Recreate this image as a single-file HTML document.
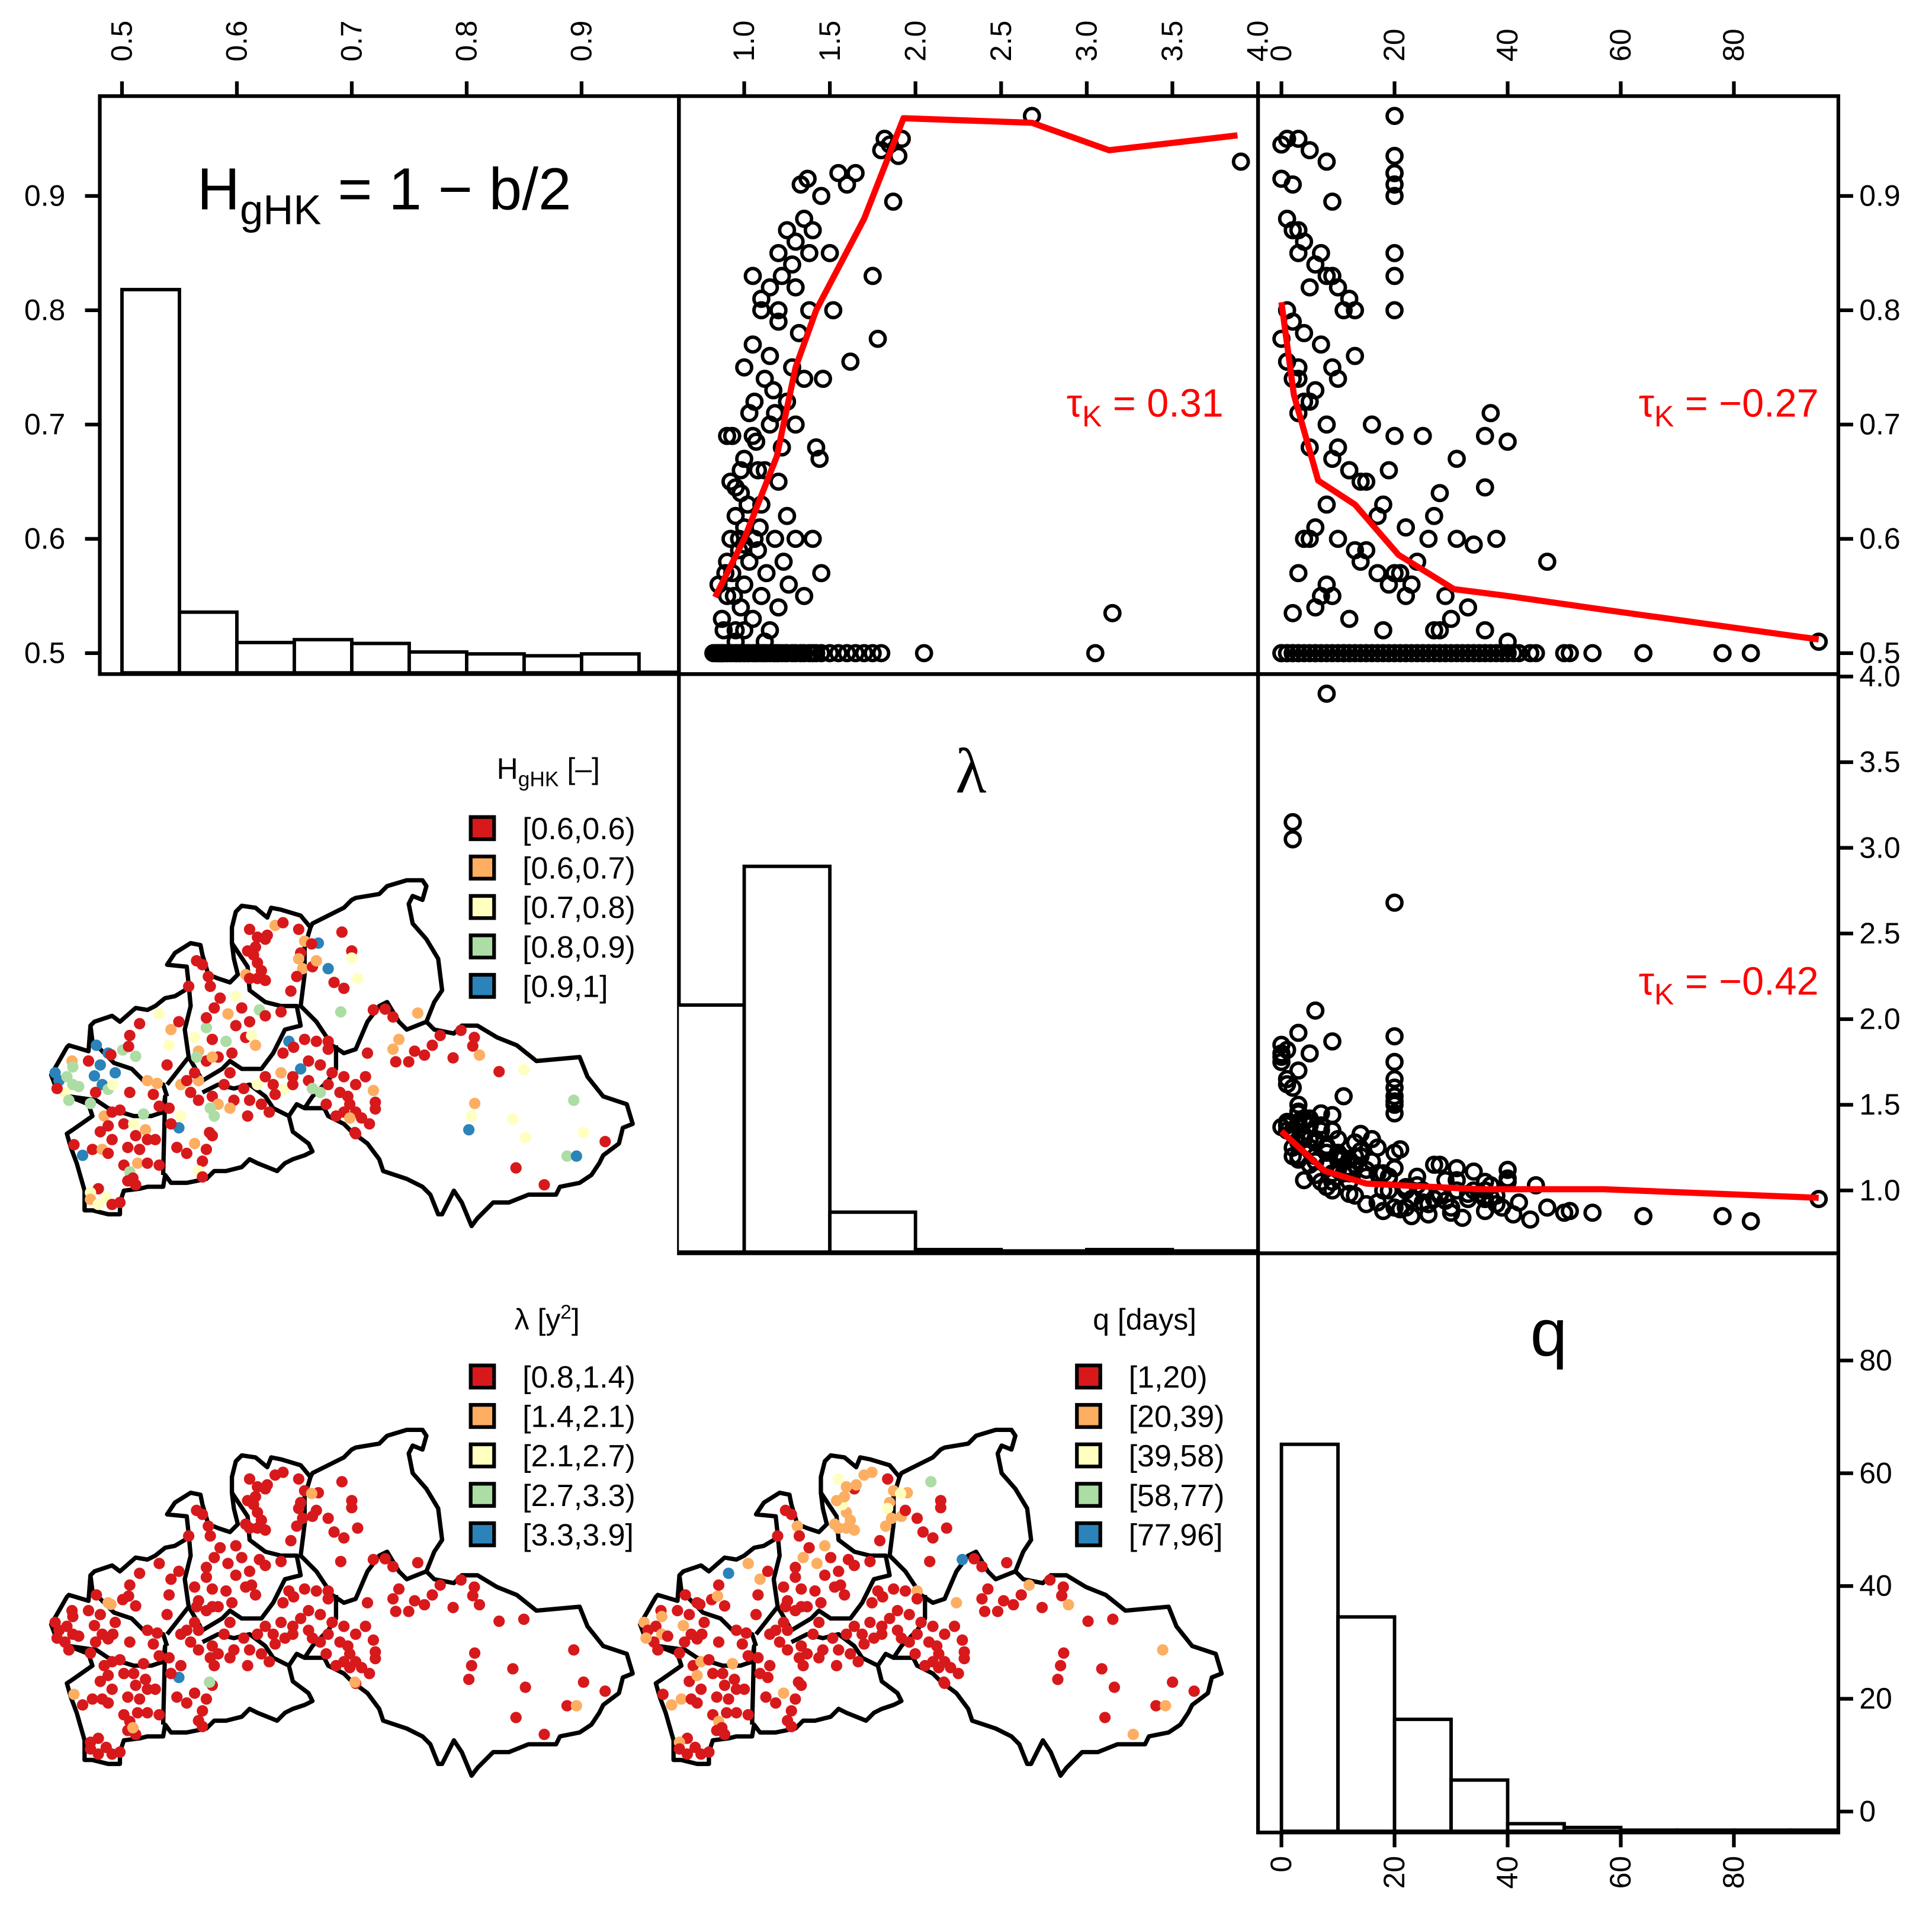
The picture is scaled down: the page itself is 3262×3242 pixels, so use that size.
<!DOCTYPE html>
<html><head><meta charset="utf-8"><style>
html,body{margin:0;padding:0;background:#fff}
svg{display:block}
text{font-family:"Liberation Sans",sans-serif;fill:#000}
</style></head><body>
<svg id="c" xmlns="http://www.w3.org/2000/svg" width="3262" height="3242" viewBox="0 0 1568 1558" preserveAspectRatio="none">
<rect x="0" y="0" width="1568" height="1558" fill="#fff"/>
<g id="frames" fill="none" stroke="#000" stroke-width="3">
<rect x="81" y="78" width="470" height="469"/>
<rect x="551" y="78" width="470" height="469"/>
<rect x="1021" y="78" width="471" height="469"/>
<rect x="551" y="547" width="470" height="470"/>
<rect x="1021" y="547" width="471" height="470"/>
<rect x="1021" y="1017" width="471" height="470"/>
</g>
<g id="ticks"></g>
<g id="marks"></g>
<g id="maps"></g>
<text x="160" y="170" font-size="48">H<tspan font-size="34" dy="12">gHK</tspan><tspan dy="-12"> = 1 − b/2</tspan></text>
<text x="788" y="643" font-size="52" text-anchor="middle" style="font-family:'Liberation Serif',serif">λ</text>
<text x="1257" y="1100" font-size="54" text-anchor="middle">q</text>
<text x="993" y="338" font-size="32" text-anchor="end" style="fill:#f00">τ<tspan font-size="24" dy="8">K</tspan><tspan dy="-8"> = 0.31</tspan></text>
<text x="1476" y="338" font-size="32" text-anchor="end" style="fill:#f00">τ<tspan font-size="24" dy="8">K</tspan><tspan dy="-8"> = −0.27</tspan></text>
<text x="1476" y="807" font-size="32" text-anchor="end" style="fill:#f00">τ<tspan font-size="24" dy="8">K</tspan><tspan dy="-8"> = −0.42</tspan></text>
</svg>
<script>
const NS='http://www.w3.org/2000/svg';
// ---------- data ----------
const hTicks=[0.5,0.6,0.7,0.8,0.9];
const lamTicks=[1.0,1.5,2.0,2.5,3.0,3.5,4.0];
const qTicks=[0,20,40,60,80];
const hBinEdges=[0.5,0.55,0.6,0.65,0.7,0.75,0.8,0.85,0.9,0.95,1.0];
const hCounts=[202,32,16,17.5,15.5,11,10,9,10,0.3];
const lamBinEdges=[0.5,1.0,1.5,2.0,2.5,3.0,3.5,4.0];
const lamCounts=[130,203,21,1.3,0.6,1.3,0.6];
const qBinEdges=[0,10,20,30,40,50,60,70,80,90,100];
const qCounts=[204,113,59,27,4,2,0.6,0.6,0.6,0.6];
// observations: [lambda, H, q]
const obs=[
[0.83,0.5,44],[0.85,0.5,64],[0.82,0.5,83],[0.85,0.5,78],[0.87,0.5,55],[0.87,0.5,50],[0.88,0.5,51],[0.95,0.51,95],
[0.88,0.5,36],[0.9,0.5,30],[0.92,0.5,38],[0.95,0.5,33],[0.97,0.5,28],[1.0,0.5,25],[1.02,0.5,22],[1.05,0.5,40],[1.07,0.5,19],[1.1,0.5,17],[1.12,0.5,15],[1.15,0.5,27],[1.18,0.5,12],[1.2,0.5,10],[1.22,0.5,20],[1.25,0.5,8],[1.28,0.5,13],[1.3,0.5,6],[1.35,0.5,9],[1.38,0.5,5],[1.42,0.5,4],[1.45,0.5,7],[1.5,0.5,3],[1.55,0.5,11],[1.6,0.5,2],[1.65,0.5,1],[1.7,0.5,3],[1.75,0.5,0],[1.8,0.5,0],[2.05,0.5,6],[3.05,0.5,2],[0.98,0.5,35],[1.08,0.5,24],[1.13,0.5,31],[0.93,0.5,42],[1.03,0.5,45],[0.95,0.5,23],[1.17,0.5,16],[1.33,0.5,14],[1.0,0.5,18],[0.9,0.5,39],[1.06,0.5,29],[1.24,0.5,21],[1.4,0.5,1],[0.86,0.5,26],[1.11,0.5,34],[0.96,0.5,37],[1.19,0.5,11],[0.84,0.5,32],[0.86,0.5,41],
[0.87,0.53,30],[0.9,0.55,22],[0.93,0.57,17],[0.95,0.52,27],[0.98,0.54,33],[1.0,0.56,19],[1.03,0.58,24],[1.05,0.53,12],[1.08,0.59,15],[1.1,0.55,9],[1.13,0.57,20],[1.15,0.52,28],[1.18,0.6,10],[1.2,0.54,6],[1.23,0.58,14],[1.26,0.56,8],[1.3,0.6,5],[1.35,0.55,7],[1.4,0.6,4],[1.45,0.57,3],[0.92,0.6,26],[1.0,0.52,36],[1.06,0.6,31],[1.12,0.51,40],[0.89,0.57,21],[3.15,0.535,2],[0.9,0.58,47],[0.85,0.56,23],[0.88,0.52,18],[0.94,0.55,29],[0.97,0.59,13],
[0.95,0.62,27],[0.98,0.64,28],[1.0,0.67,31],[1.03,0.71,37],[1.05,0.69,36],[1.07,0.685,40],[0.97,0.6,38],[1.0,0.595,34],[0.95,0.645,36],[0.93,0.69,25],[1.1,0.63,18],[1.12,0.66,12],[1.15,0.7,8],[1.17,0.73,6],[1.2,0.65,14],[1.22,0.68,10],[1.25,0.72,5],[1.28,0.75,3],[1.3,0.7,16],[1.32,0.78,4],[1.35,0.74,2],[1.38,0.8,1],[0.9,0.69,20],[0.92,0.65,15],[1.0,0.75,9],[1.05,0.77,7],[1.1,0.8,11],[1.15,0.76,13],[1.2,0.79,2],[1.25,0.62,17],[1.0,0.61,22],[1.08,0.66,19],[1.46,0.74,3],[1.42,0.68,5],[1.44,0.67,9],[1.62,0.755,1],[1.78,0.775,0],[1.52,0.8,20],[1.02,0.63,8],[1.06,0.72,4],[1.12,0.74,10],[1.18,0.71,3],[0.98,0.66,12],[1.09,0.61,6],
[1.15,0.82,5],[1.2,0.85,3],[1.22,0.83,8],[1.25,0.87,2],[1.28,0.84,6],[1.3,0.86,4],[1.35,0.88,1],[1.38,0.85,7],[1.4,0.87,3],[1.3,0.82,10],[1.33,0.91,2],[1.37,0.915,0],[1.55,0.92,20],[1.6,0.91,20],[1.65,0.92,20],[1.8,0.94,5],[1.82,0.95,1],[1.85,0.945,0],[1.92,0.95,3],[1.9,0.935,20],[1.87,0.895,9],[1.45,0.9,20],[1.5,0.85,20],[1.75,0.83,20],[1.2,0.8,13],[2.68,0.97,20],[3.9,0.93,8],[1.1,0.81,12],[1.05,0.83,9]
];
const fitLamH=[[0.83,0.549],[1.0,0.6],[1.19,0.672],[1.3,0.75],[1.42,0.80],[1.7,0.88],[1.93,0.968],[2.68,0.964],[3.13,0.94],[3.88,0.953]];
const fitQH=[[0,0.807],[2.2,0.726],[6.5,0.651],[13,0.63],[20.7,0.586],[30.5,0.556],[40,0.55],[57,0.538],[95,0.512]];
const fitQLam=[[0,1.345],[7.6,1.115],[15,1.04],[35,1.007],[57,1.007],[95,0.957]];
const classColors=['#D7191C','#FDAE61','#FFFFBF','#ABDDA4','#2B83BA'];
const legendH=['[0.6,0.6)','[0.6,0.7)','[0.7,0.8)','[0.8,0.9)','[0.9,1]'];
const legendL=['[0.8,1.4)','[1.4,2.1)','[2.1,2.7)','[2.7,3.3)','[3.3,3.9]'];
const legendQ=['[1,20)','[20,39)','[39,58)','[58,77)','[77,96]'];
// stations: [mapX, mapY, Hclass, lambdaClass, qClass]
const stations=[
[65,770,4,0,1],[75,790,4,0,0],[95,780,3,0,0],[110,800,3,0,1],[125,805,3,0,0],[90,820,2,0,0],[100,840,3,0,0],[70,810,0,0,1],[108,740,1,0,0],[110,755,3,0,1],[150,740,0,0,0],[170,700,4,0,0],[200,720,4,1,0],[180,750,4,0,0],[165,778,4,0,1],[218,770,4,0,0],[185,800,4,0,0],[200,812,3,0,0],[212,800,2,0,0],[155,848,3,0,0],[168,820,0,0,0],[237,712,3,0,0],[252,703,0,0,1],[270,728,3,0,0],[255,675,0,0,0],[280,645,0,0,4],[255,820,0,0,0],
[300,790,1,0,0],[325,797,1,0,0],[290,875,3,0,1],[350,750,0,0,0],[315,825,0,0,0],[330,855,0,0,0],[355,860,0,0,0],[360,660,1,0,1],[380,640,0,0,0],[355,700,2,0,0],[330,620,2,0,1],
[190,880,1,0,0],[210,870,0,0,1],[230,865,0,0,0],[180,920,0,0,0],[200,905,0,0,1],[240,900,0,0,0],[265,900,2,0,0],[295,915,1,0,0],[270,930,0,0,0],[300,940,0,0,0],[320,940,0,0,0],[210,940,0,0,0],[250,960,0,0,0],[280,965,0,0,0],[160,965,0,0,1],[185,965,1,0,0],[135,980,4,0,1],[200,975,0,0,0],[240,1005,0,0,0],[255,1022,3,0,1],[275,1000,1,0,0],[300,1000,0,0,0],[330,1005,0,0,0],[250,1045,0,0,0],[270,1055,0,0,0],[175,1065,0,0,0],[155,1075,2,0,1],[155,1092,1,0,0],[195,1088,2,0,0],[175,1105,2,0,0],[230,1100,0,0,0],[210,1105,0,0,0],
[263,1038,0,1,0],[113,953,0,1,0],[207,724,0,1,0],
[380,910,4,4,0],[385,880,2,0,0],[360,900,0,0,0],[375,960,0,0,0],[400,975,0,0,0],[420,950,1,0,1],[440,995,0,0,0],[450,965,0,0,0],[465,930,0,0,0],[430,1020,2,0,0],[440,1035,0,0,0],[470,880,3,0,0],[458,922,0,3,0],[465,830,0,0,0],[410,820,0,0,0],[430,840,0,0,0],[385,800,1,0,0],[400,790,0,0,0],[430,790,1,0,0],[420,770,0,0,0],[450,740,0,0,0],[480,730,0,0,0],[465,730,1,0,0],[430,715,1,0,0],[425,730,3,0,0],[510,770,0,0,0],[495,800,0,0,0],[520,840,0,0,0],[510,860,1,0,0],[480,850,1,0,0],[460,860,3,0,0],[545,810,0,0,0],[560,840,0,0,0],[555,880,0,0,0],[590,850,0,0,0],[610,870,0,0,0],[580,800,2,0,0],[600,780,0,0,0],
[420,680,2,0,0],[465,685,0,0,0],[500,690,3,0,0],[515,720,0,0,0],[550,680,0,0,0],[565,675,2,0,0],[575,700,1,0,0],[525,650,0,0,0],[505,620,1,0,1],[540,605,0,0,0],[585,610,3,0,0],[600,625,0,0,0],[640,615,0,0,0],[560,640,0,0,0],[450,655,3,0,0],[470,605,0,0,1],[485,580,0,0,0],[525,575,2,0,1],[450,630,0,0,0],[405,550,0,0,0],[455,525,0,0,1],[460,550,0,0,0],[425,485,0,0,0],[440,495,0,0,0],
[550,520,1,0,1],[560,530,0,0,1],[580,530,0,0,1],[600,535,0,0,1],[590,510,0,0,1],[580,490,0,0,1],[570,470,0,0,2],[555,460,0,0,1],[575,450,0,0,1],[600,430,0,0,0],[560,405,0,0,2],[580,425,0,0,1],[605,420,0,0,1],[625,395,1,0,1],[645,388,0,0,1],[685,405,0,0,0],[700,435,1,0,1],[690,465,0,0,1],[685,480,1,0,2],[695,505,1,0,1],[720,500,0,0,1],[730,485,1,0,0],[735,440,4,0,1],[760,505,4,0,0],[680,525,0,0,1],[665,562,0,0,0],[775,540,0,0,0],[800,555,0,0,0],[795,412,0,0,3],[820,460,0,0,0],[820,478,2,0,0],[835,530,2,0,0],[718,442,0,1,2],[792,615,3,0,0],[875,610,0,0,4],[905,608,0,0,0],[925,628,0,0,0],[988,618,1,0,0],
[660,690,4,0,0],[645,720,0,0,0],[672,705,0,0,0],[700,685,0,0,0],[730,690,0,0,0],[760,690,0,0,1],[710,740,0,0,0],[740,750,0,0,0],[770,770,0,0,0],[800,780,0,0,0],[760,710,0,0,0],[690,760,4,0,0],[670,780,0,0,0],[640,770,1,0,0],[620,800,0,0,0],[650,810,2,0,0],[670,800,0,0,0],[710,790,0,0,0],[720,810,3,0,0],[740,820,3,0,0],[760,800,0,0,0],[790,820,0,0,0],[810,830,0,0,0],[830,800,0,0,0],[855,780,0,0,0],[860,720,0,0,1],[815,850,0,0,0],[830,870,0,0,0],[780,880,0,0,0],[800,870,0,0,0],[815,885,1,0,0],[845,885,0,0,0],[865,900,0,0,0],[830,925,0,0,0],[875,815,1,0,0],[880,845,0,0,0],[880,862,0,0,0],[828,922,0,1,0],[755,850,0,0,0],[625,825,0,0,0],
[940,685,1,0,0],[925,710,1,0,0],[932,742,0,0,0],[965,742,0,0,0],[980,715,0,0,0],[1005,725,0,0,0],[1025,700,0,0,0],[1045,675,0,0,1],[1098,662,0,0,0],[1132,680,0,0,0],[1128,702,0,0,0],[1145,725,1,0,1],[1078,732,0,0,0],[1195,767,0,0,0],[1258,762,2,0,0],[1133,848,1,0,0],[1125,880,2,0,0],[1118,915,4,0,0],[1230,888,2,0,0],[1262,935,2,0,0],[1385,840,3,0,1],[1410,922,2,0,0],[1368,982,3,0,0],[1392,982,4,1,1],[1465,945,0,0,0],[1238,1012,0,0,0],[1310,1055,0,0,1]
];
const outline="M55,775 L95,705 L100,700 L150,715 L155,650 L165,640 L210,625 L230,640 L270,605 L300,610 L320,600 L345,580 L370,575 L395,560 L405,545 L400,500 L350,495 L370,465 L410,440 L435,445 L440,470 L455,520 L480,530 L510,540 L530,520 L520,480 L515,440 L515,400 L525,360 L540,345 L575,350 L605,375 L615,350 L640,355 L690,370 L715,400 L720,390 L760,370 L800,350 L820,330 L830,325 L890,315 L910,295 L960,280 L1000,280 L1010,295 L1000,330 L975,320 L965,340 L975,390 L1010,430 L1040,480 L1050,560 L1030,590 L1010,640 L1030,660 L1080,670 L1100,650 L1140,650 L1190,680 L1215,690 L1240,700 L1290,740 L1400,730 L1420,780 L1460,830 L1520,850 L1535,900 L1510,910 L1500,950 L1460,980 L1450,1000 L1430,1030 L1400,1050 L1350,1060 L1340,1080 L1270,1080 L1220,1100 L1180,1100 L1140,1140 L1125,1160 L1100,1100 L1080,1070 L1050,1130 L1040,1130 L1020,1080 L1000,1060 L960,1040 L900,1020 L890,990 L860,950 L820,920 L800,900 L760,880 L750,860 L700,860 L680,850 L660,880 L670,920 L710,950 L720,970 L700,980 L670,990 L650,1000 L630,1020 L580,1000 L560,990 L540,1010 L500,1020 L470,1020 L450,1040 L400,1050 L360,1050 L345,1030 L340,1060 L300,1060 L280,1065 L240,1070 L230,1100 L230,1130 L200,1130 L160,1120 L140,1120 L140,1070 L120,1000 L105,960 L95,925 L110,915 L160,880 L150,850 L100,830 L70,815 Z "+
"M100,830 L170,840 L200,860 L265,880 L310,880 L340,870 L345,830 L340,1030 "+
"M155,650 L160,690 L215,745 L260,760 L290,790 L340,800 L350,830 "+
"M405,545 L410,600 L395,660 L405,730 L350,800 "+
"M515,440 L555,500 L560,560 L600,590 L640,600 L680,600 L690,650 L650,660 L620,720 L590,760 L540,760 L510,740 L490,760 L440,790 L405,730 "+
"M715,400 L700,450 L700,520 L690,600 L730,640 L770,700 L800,720 L830,710 L860,640 L890,600 L910,590 L940,640 L960,660 L1010,640 "+
"M780,700 L780,760 L760,790 L720,830 L700,860 "+
"M440,820 L480,800 L520,810 L560,800 L600,830 L620,860 L660,880";
// ---------- scales ----------
const Hx=v=>99+(v-0.5)*932.5, Hy=v=>530-(v-0.5)*927.5;
const Lx=v=>604+(v-1)*139, Ly=v=>966-(v-1)*139;
const Qx=v=>1040+v*4.59, Qy=v=>1470-v*4.575;
const svg=document.getElementById('c');
const T=document.getElementById('ticks'), M=document.getElementById('marks'), MP=document.getElementById('maps');
function el(tag,attrs,parent){const e=document.createElementNS(NS,tag);for(const k in attrs)e.setAttribute(k,attrs[k]);parent.appendChild(e);return e;}
const FS=24, TW=3;
// ---------- ticks ----------
function topAxis(ticks,sx,fmtf){ticks.forEach(t=>{const x=sx(t);
 const l=el('line',{x1:x,y1:78,x2:x,y2:66,stroke:'#000','stroke-width':TW},T);
 
 
 const tx=el('text',{x:0,y:0,'font-size':FS,transform:`translate(${x+8},50) rotate(-90)`},T);
 
 
 tx.textContent=fmtf(t);});}
function bottomAxis(ticks,sx,fmtf){ticks.forEach(t=>{const x=sx(t);
 const l=el('line',{x1:x,y1:1487,x2:x,y2:1499,stroke:'#000','stroke-width':TW},T);
 
 
 const tx=el('text',{x:0,y:0,'font-size':FS,'text-anchor':'end',transform:`translate(${x+8},1506) rotate(-90)`},T);
 
 
 tx.textContent=fmtf(t);});}
function leftAxis(ticks,sy,fmtf){ticks.forEach(t=>{const y=sy(t);
 const l=el('line',{x1:81,y1:y,x2:69,y2:y,stroke:'#000','stroke-width':TW},T);
 
 
 const tx=el('text',{x:53,y:y+8,'font-size':FS,'text-anchor':'end'},T);
 
 
 tx.textContent=fmtf(t);});}
function rightAxis(ticks,sy,fmtf){ticks.forEach(t=>{const y=sy(t);
 const l=el('line',{x1:1492,y1:y,x2:1504,y2:y,stroke:'#000','stroke-width':TW},T);
 
 
 const tx=el('text',{x:1509,y:y+8,'font-size':FS},T);
 
 
 tx.textContent=fmtf(t);});}
const f1=v=>v.toFixed(1), f0=v=>String(v);
topAxis(hTicks,Hx,f1); topAxis(lamTicks,Lx,f1); topAxis(qTicks,Qx,f0);
leftAxis(hTicks,Hy,f1); rightAxis(hTicks,Hy,f1); rightAxis(lamTicks,Ly,f1); rightAxis(qTicks,Qy,f0);
bottomAxis(qTicks,Qx,f0);
// ---------- clip paths ----------
const defs=el('defs',{},svg);
function clip(id,x,y,w,h){const c=el('clipPath',{id:id},defs);el('rect',{x:x,y:y,width:w,height:h},c);}
clip('p11',81,78,470,469);clip('p12',551,78,470,469);clip('p13',1021,78,471,469);
clip('p22',551,547,470,470);clip('p23',1021,547,471,470);clip('p33',1021,1017,471,470);
// ---------- histograms ----------
function hist(edges,counts,sx,base,scale,clipId,name){const g=el('g',{'clip-path':`url(#${clipId})`},M);
 
 
 counts.forEach((c,i)=>{const x0=sx(edges[i]),x1=sx(edges[i+1]),h=c*scale;
  const r=el('rect',{x:x0,y:base-h,width:x1-x0,height:h,fill:'#fff',stroke:'#000','stroke-width':2.8},g);
  
  });}
hist(hBinEdges,hCounts,Hx,546,311/202,'p11','h-histogram');
hist(lamBinEdges,lamCounts,v=>604+(v-1)*139,1016,313/203,'p22','lambda-histogram');
hist(qBinEdges,qCounts,Qx,1486,314/204,'p33','q-histogram');
// ---------- scatters ----------
function scatter(sx,sy,xi,yi,clipId,name,fit){const g=el('g',{'clip-path':`url(#${clipId})`},M);
 
 
 obs.forEach(o=>{const c=el('circle',{cx:sx(o[xi]),cy:sy(o[yi]),r:6,fill:'none',stroke:'#000','stroke-width':2.8},g);
  
  });
 const p=el('polyline',{points:fit.map(d=>sx(d[0])+','+sy(d[1])).join(' '),fill:'none',stroke:'#f00','stroke-width':5,'stroke-linejoin':'round'},g);
 
 }
scatter(Lx,Hy,0,1,'p12','scatter-lambda-h',fitLamH);
scatter(Qx,Hy,2,1,'p13','scatter-q-h',fitQH);
scatter(Qx,Ly,2,0,'p23','scatter-q-lambda',fitQLam);
// ---------- maps ----------
function map(ox,oy,ci,name){const g=el('g',{transform:`translate(${ox},${oy}) scale(${1/3.136})`},MP);
 
 
 const p=el('path',{d:outline,fill:'none',stroke:'#000','stroke-width':11,'stroke-linejoin':'round'},g);
 
 
 stations.forEach(s=>{const c=el('circle',{cx:s[0],cy:s[1],r:14.5,fill:classColors[s[ci]]},g);
  
  });}
map(24,625,2,'map-h');
map(24,1071,3,'map-lambda');
map(502,1071,4,'map-q');
// ---------- legends ----------
function legend(sqX,txtX,y0,labels,name){const g=el('g',{},MP);
 
 
 labels.forEach((lb,i)=>{const y=y0+i*32;
  const r=el('rect',{x:sqX,y:y-9,width:19,height:18,fill:classColors[i],stroke:'#000','stroke-width':3},g);
  
  
  const t=el('text',{x:txtX,y:y+9,'font-size':25},g);
  
  
  t.textContent=lb;});}
legend(382,424,672,legendH,'legend-h');
legend(382,424,1117,legendL,'legend-lambda');
legend(874,916,1117,legendQ,'legend-q');
// ---------- legend titles ----------
function title(x,y,html,name){const e=el('text',{x:x,y:y,'font-size':24,'text-anchor':'middle'},svg);
 e.innerHTML=html;
 
 }
title(445,632,'H<tspan font-size="17" dy="6">gHK</tspan><tspan dy="-6"> [–]</tspan>','legend-h-title');
title(444,1079,'λ [y<tspan font-size="16" dy="-9">2</tspan><tspan dy="9">]</tspan>','legend-lambda-title');
title(929,1079,'q [days]','legend-q-title');
</script>
</body></html>
